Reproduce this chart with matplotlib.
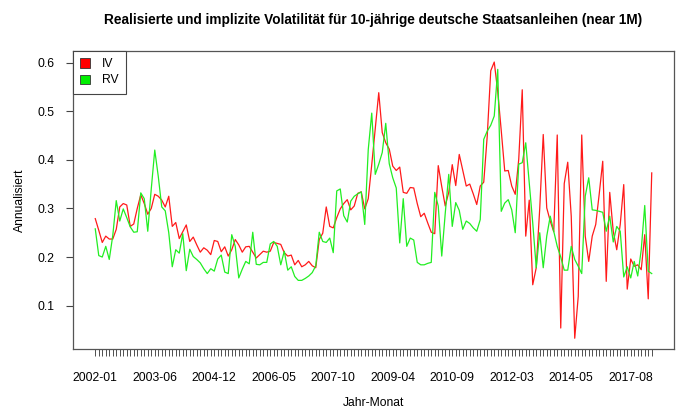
import matplotlib
matplotlib.use("Agg")
import matplotlib.pyplot as plt
from matplotlib.patches import Patch

# implied volatility (IV) and realised volatility (RV), one value per month index
iv = [0.279, 0.255, 0.230, 0.243, 0.237, 0.237, 0.257, 0.303, 0.310, 0.307,
      0.263, 0.268, 0.300, 0.328, 0.310, 0.288, 0.300, 0.329, 0.325, 0.317,
      0.303, 0.325, 0.263, 0.271, 0.238, 0.252, 0.266, 0.232, 0.241, 0.225,
      0.210, 0.219, 0.214, 0.205, 0.234, 0.232, 0.211, 0.221, 0.202, 0.215,
      0.236, 0.225, 0.210, 0.221, 0.222, 0.210, 0.198, 0.205, 0.212, 0.210,
      0.212, 0.230, 0.228, 0.226, 0.209, 0.202, 0.204, 0.184, 0.193, 0.180,
      0.184, 0.191, 0.182, 0.178, 0.236, 0.249, 0.303, 0.263, 0.260, 0.281,
      0.299, 0.310, 0.318, 0.297, 0.305, 0.331, 0.334, 0.299, 0.320, 0.390,
      0.465, 0.538, 0.456, 0.435, 0.422, 0.387, 0.378, 0.385, 0.333, 0.331,
      0.343, 0.342, 0.310, 0.283, 0.290, 0.270, 0.251, 0.248, 0.388, 0.345,
      0.305, 0.333, 0.390, 0.347, 0.411, 0.379, 0.346, 0.350, 0.330, 0.308,
      0.346, 0.354, 0.449, 0.583, 0.601, 0.540, 0.460, 0.377, 0.378, 0.346,
      0.329, 0.401, 0.544, 0.243, 0.317, 0.143, 0.178, 0.300, 0.452, 0.301,
      0.274, 0.252, 0.451, 0.054, 0.351, 0.395, 0.284, 0.033, 0.119, 0.451,
      0.243, 0.191, 0.243, 0.267, 0.330, 0.397, 0.150, 0.333, 0.253, 0.215,
      0.267, 0.349, 0.134, 0.196, 0.181, 0.184, 0.174, 0.246, 0.114, 0.373]

rv = [0.258, 0.203, 0.200, 0.222, 0.195, 0.244, 0.316, 0.274, 0.299, 0.281,
      0.262, 0.251, 0.252, 0.332, 0.320, 0.253, 0.340, 0.420, 0.366, 0.303,
      0.295, 0.250, 0.180, 0.215, 0.208, 0.248, 0.172, 0.216, 0.201, 0.195,
      0.188, 0.176, 0.166, 0.176, 0.171, 0.196, 0.204, 0.169, 0.166, 0.246,
      0.222, 0.157, 0.175, 0.191, 0.186, 0.251, 0.185, 0.184, 0.189, 0.189,
      0.227, 0.232, 0.222, 0.184, 0.212, 0.173, 0.180, 0.160, 0.152, 0.152,
      0.156, 0.161, 0.168, 0.182, 0.251, 0.232, 0.230, 0.239, 0.209, 0.336,
      0.340, 0.285, 0.272, 0.315, 0.325, 0.330, 0.334, 0.267, 0.421, 0.496,
      0.370, 0.391, 0.415, 0.475, 0.392, 0.363, 0.342, 0.229, 0.320, 0.222,
      0.239, 0.235, 0.189, 0.184, 0.184, 0.187, 0.189, 0.333, 0.305, 0.202,
      0.290, 0.370, 0.263, 0.312, 0.296, 0.257, 0.274, 0.269, 0.260, 0.253,
      0.277, 0.442, 0.459, 0.471, 0.490, 0.586, 0.294, 0.311, 0.318, 0.297,
      0.250, 0.391, 0.394, 0.435, 0.353, 0.270, 0.178, 0.250, 0.178, 0.243,
      0.284, 0.253, 0.222, 0.200, 0.173, 0.173, 0.222, 0.195, 0.181, 0.166,
      0.325, 0.363, 0.297, 0.296, 0.294, 0.292, 0.253, 0.284, 0.231, 0.263,
      0.253, 0.159, 0.180, 0.157, 0.191, 0.161, 0.215, 0.306, 0.171, 0.166]

# the months that get a printed label (every 17th observation)
label_pos = [0, 17, 34, 51, 68, 85, 102, 119, 136, 153]
tick_labels = ["2002-01", "2003-06", "2004-12", "2006-05", "2007-10",
               "2009-04", "2010-09", "2012-03", "2014-05", "2017-08"]
y_ticks = [0.1, 0.2, 0.3, 0.4, 0.5, 0.6]

plt.rcParams["font.family"] = ["Liberation Sans", "DejaVu Sans"]

n = len(iv)
x = list(range(n))
fs = 8.7

fig = plt.figure(figsize=(6.9, 4.09), dpi=100)
ax = fig.add_axes([0.1058, 0.146, 0.871, 0.7293])

ax.plot(x, iv, color="#ff1a1a", lw=0.9)
ax.plot(x, rv, color="#22ee22", lw=0.9)

# R style 4% padding
lo = min(min(iv), min(rv))
hi = max(max(iv), max(rv))
ax.set_xlim(-0.04 * (n - 1), (n - 1) * 1.04)
ax.set_ylim(lo - 0.04 * (hi - lo), hi + 0.04 * (hi - lo))

xlabels = [""] * n
for p, lab in zip(label_pos, tick_labels):
    xlabels[p] = lab
ax.set_xticks(x)
ax.set_xticklabels(xlabels)
ax.tick_params(axis="x", length=5, width=0.6, color="#333333", pad=11,
               labelsize=fs)

ax.set_yticks(y_ticks)
ax.set_yticklabels([f"{v:.1f}" for v in y_ticks])
ax.tick_params(axis="y", length=5, width=0.8, color="#444444", pad=8,
               labelsize=fs)

for s in ax.spines.values():
    s.set_color("#555555")
    s.set_linewidth(0.9)

ax.set_xlabel("Jahr-Monat", fontsize=fs)
ax.xaxis.set_label_coords(0.5, -0.18)
ax.xaxis.label.set_va("center")
ax.set_ylabel("Annualisiert", fontsize=fs)
ax.yaxis.set_label_coords(-0.088, 0.5)
ax.yaxis.label.set_va("center")

fig.suptitle("Realisierte und implizite Volatilität für 10-jährige deutsche "
             "Staatsanleihen (near 1M)", x=373.5 / 690, y=0.951, va="center",
             fontsize=9.8, fontweight="bold")

handles = [Patch(facecolor="#ff0000", edgecolor="#333333", lw=0.6, label="IV"),
           Patch(facecolor="#00ee00", edgecolor="#333333", lw=0.6, label="RV")]
leg = ax.legend(handles=handles, loc="upper left", borderaxespad=0,
                fancybox=False, framealpha=1, edgecolor="#444444",
                fontsize=fs, handlelength=0.8, handleheight=0.8,
                handletextpad=1.0, borderpad=0.6, labelspacing=0.35)
leg.get_frame().set_linewidth(0.8)

fig.savefig("out.png", dpi=100)
